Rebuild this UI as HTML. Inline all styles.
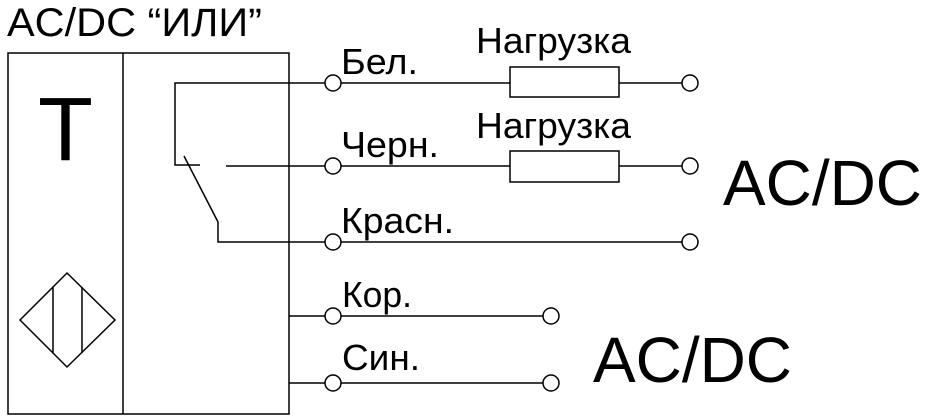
<!DOCTYPE html>
<html><head><meta charset="utf-8"><style>html,body{margin:0;padding:0;background:#fff}svg{display:block}</style></head>
<body>
<svg width="928" height="416" viewBox="0 0 928 416" xmlns="http://www.w3.org/2000/svg" font-family="Liberation Sans, sans-serif">
<g fill="none" stroke="#000" stroke-width="1.5">
<rect x="8" y="53" width="281" height="361"/>
<line x1="123" y1="53" x2="123" y2="414"/>
<polygon points="67,273 115,320 67,367 20,320"/>
<line x1="53" y1="287" x2="53" y2="353"/>
<line x1="82" y1="287" x2="82" y2="353"/>
<polyline points="325,83 175,83 175,165 200,165"/>
<line x1="226" y1="166" x2="325" y2="166"/>
<line x1="184" y1="156" x2="218" y2="222"/>
<polyline points="218,222 218,242 325,242"/>
<line x1="289" y1="316" x2="325" y2="316"/>
<line x1="289" y1="383" x2="325" y2="383"/>
<line x1="341" y1="83" x2="510" y2="83"/>
<rect x="510" y="67" width="109" height="30"/>
<line x1="619" y1="83" x2="682" y2="83"/>
<line x1="341" y1="166" x2="510" y2="166"/>
<rect x="510" y="151" width="109" height="31"/>
<line x1="619" y1="166" x2="682" y2="166"/>
<line x1="341" y1="242" x2="682" y2="242"/>
<line x1="341" y1="316" x2="543" y2="316"/>
<line x1="341" y1="383" x2="543" y2="383"/>
<g fill="#fff">
<circle cx="333" cy="83" r="8"/><circle cx="333" cy="166" r="8"/><circle cx="333" cy="242" r="8"/><circle cx="333" cy="316" r="8"/><circle cx="333" cy="383" r="8"/>
<circle cx="690" cy="83" r="8"/><circle cx="690" cy="166" r="8"/><circle cx="690" cy="242" r="8"/><circle cx="551" cy="316" r="8"/><circle cx="551" cy="383" r="8"/>
</g>
</g>
<g fill="#000">
<text x="7" y="36" font-size="40" textLength="255" lengthAdjust="spacingAndGlyphs">AC/DC “ИЛИ”</text>
<text x="38" y="160" font-size="90">T</text>
<text x="341" y="74" font-size="36" textLength="77" lengthAdjust="spacingAndGlyphs">Бел.</text>
<text x="341" y="157" font-size="36" textLength="98" lengthAdjust="spacingAndGlyphs">Черн.</text>
<text x="341" y="233" font-size="36" textLength="113" lengthAdjust="spacingAndGlyphs">Красн.</text>
<text x="342" y="307" font-size="36" textLength="70" lengthAdjust="spacingAndGlyphs">Кор.</text>
<text x="342" y="370" font-size="36" textLength="78" lengthAdjust="spacingAndGlyphs">Син.</text>
<text x="476" y="53" font-size="36" textLength="155" lengthAdjust="spacingAndGlyphs">Нагрузка</text>
<text x="476" y="138" font-size="36" textLength="155" lengthAdjust="spacingAndGlyphs">Нагрузка</text>
<text x="723" y="205" font-size="64" textLength="199" lengthAdjust="spacingAndGlyphs">AC/DC</text>
<text x="593" y="382" font-size="64" textLength="199" lengthAdjust="spacingAndGlyphs">AC/DC</text>
</g>
</svg>
</body></html>
